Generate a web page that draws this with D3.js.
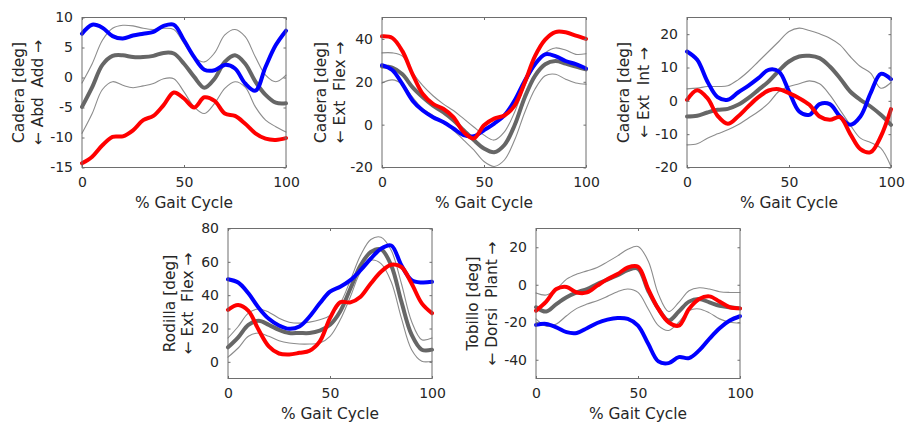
<!DOCTYPE html>
<html>
<head>
<meta charset="utf-8">
<script src="https://cdn.jsdelivr.net/npm/d3@7"></script>
<style>
  body { margin: 0; background: #fff; }
  text { font-family: "DejaVu Sans", sans-serif; fill: #262626; white-space: pre; }
</style>
</head>
<body>
<svg id="chart" width="905" height="423"></svg>
<script>
// % gait cycle, shared by every series
const pct = [0, 5, 10, 15, 20, 25, 30, 35, 40, 45, 50, 55, 60, 65, 70, 75, 80, 85, 90, 95, 100];

// Cadera abd/add
const hipAbdMean  = [-4.9, -1.6, 2.1, 3.6, 3.7, 3.4, 3.4, 3.6, 4.1, 4.0, 2.3, 0.1, -1.7, -0.2, 2.6, 3.7, 2.3, -0.7, -2.9, -4.2, -4.3];
const hipAbdUpper = [-0.9, 2.3, 6.2, 8.2, 8.7, 8.6, 8.2, 8.0, 8.2, 8.0, 5.7, 3.4, 2.6, 4.1, 7.1, 8.0, 6.8, 3.4, 0.4, -0.7, 0.4];
const hipAbdLower = [-9.3, -6.0, -2.0, -0.7, -1.3, -1.7, -1.4, -1.0, -0.2, -0.2, -2.4, -4.9, -6.0, -4.3, -1.8, -0.7, -1.6, -4.9, -7.1, -8.2, -9.1];
const hipAbdBlue  = [7.3, 8.8, 8.3, 6.9, 6.5, 7.0, 7.3, 7.6, 8.6, 8.8, 6.2, 3.4, 1.3, 1.2, 2.1, 1.5, -1.0, -2.2, 1.8, 5.4, 7.8];
const hipAbdRed   = [-14.3, -13.2, -11.3, -9.9, -9.8, -8.8, -7.1, -6.4, -4.6, -2.5, -3.5, -5.0, -3.3, -3.9, -6.0, -6.4, -7.7, -9.3, -10.2, -10.4, -10.1];

// Cadera ext/flex
const hipFlexMean  = [27.1, 26.6, 23.5, 17.4, 12.8, 8.9, 5.8, 2.0, -2.6, -7.2, -11.1, -12.9, -9.5, -0.3, 12.8, 22.8, 28.2, 29.7, 28.5, 27.1, 25.8];
const hipFlexUpper = [33.5, 33.5, 32.0, 24.3, 18.2, 13.5, 9.7, 6.6, 2.8, -1.1, -4.9, -7.2, -3.4, 5.8, 18.2, 27.4, 33.5, 35.8, 34.8, 32.8, 33.1];
const hipFlexLower = [19.4, 20.9, 18.9, 12.8, 7.4, 4.3, 1.2, -2.6, -7.2, -11.8, -17.2, -19.5, -16.5, -7.2, 5.8, 16.6, 22.8, 23.5, 21.2, 19.4, 18.9];
const hipFlexBlue  = [27.7, 25.5, 18.9, 11.2, 6.6, 3.5, 1.2, -1.8, -4.9, -5.4, -2.6, 0.5, 4.3, 11.2, 20.5, 28.2, 32.8, 32.0, 29.7, 28.2, 26.2];
const hipFlexRed   = [41.2, 40.5, 34.3, 23.5, 14.3, 9.7, 7.4, 3.5, -3.4, -6.4, -0.3, 2.8, 4.3, 8.9, 19.7, 32.0, 39.7, 43.2, 43.1, 41.5, 40.0];

// Cadera ext/int rotation
const hipRotMean  = [-4.7, -4.5, -3.5, -2.7, -2.4, -1.2, 0.8, 3.3, 5.8, 9.0, 11.8, 13.3, 13.5, 12.8, 10.3, 6.8, 2.8, 0.3, -1.7, -4.2, -7.2];
const hipRotUpper = [3.6, 3.8, 4.3, 4.3, 4.5, 6.3, 8.8, 11.8, 14.8, 17.8, 20.8, 21.8, 21.1, 20.1, 18.8, 16.8, 13.3, 10.3, 8.3, 3.8, 5.5];
const hipRotLower = [-13.2, -12.9, -11.2, -9.9, -8.7, -7.2, -5.2, -3.2, -0.7, 2.8, 4.3, 5.1, 6.0, 5.1, 1.8, -2.7, -7.2, -11.2, -12.5, -14.2, -19.7];
const hipRotBlue  = [14.8, 12.3, 5.8, 1.1, 0.3, 2.5, 4.5, 6.8, 9.3, 8.8, 2.8, -3.2, -4.2, -1.0, -1.0, -4.7, -7.2, -4.7, 2.3, 8.1, 6.5];
const hipRotRed   = [0.3, 3.2, 0.8, -4.5, -6.9, -4.7, -1.7, 1.1, 3.1, 3.5, 2.3, 0.8, -1.2, -4.7, -5.7, -4.9, -9.9, -14.5, -15.4, -10.7, -2.5];

// Rodilla ext/flex
const kneeMean  = [8.7, 14.7, 22.2, 24.6, 22.2, 19.2, 17.3, 17.3, 17.3, 18.7, 22.2, 30.2, 44.0, 57.9, 65.9, 67.5, 57.9, 36.1, 16.3, 7.3, 7.3];
const kneeUpper = [14.3, 21.2, 29.2, 31.7, 29.8, 26.2, 23.8, 23.2, 23.8, 25.2, 27.8, 35.1, 49.0, 63.9, 73.4, 74.8, 66.9, 47.0, 24.2, 13.3, 14.3];
const kneeLower = [2.8, 8.3, 15.3, 17.3, 15.3, 12.7, 11.3, 10.7, 10.7, 11.3, 15.3, 25.2, 39.1, 54.0, 60.9, 58.9, 48.0, 26.2, 7.3, 0.4, 0.4];
const kneeBlue  = [49.6, 47.6, 41.1, 32.5, 25.8, 21.8, 19.8, 21.2, 27.2, 35.1, 42.1, 45.0, 49.0, 55.0, 61.9, 67.9, 69.8, 57.9, 49.0, 47.6, 48.0];
const kneeRed   = [31.2, 34.1, 30.6, 19.2, 9.3, 5.0, 4.4, 5.4, 6.7, 12.3, 26.2, 35.7, 35.7, 39.1, 47.0, 54.0, 58.3, 56.9, 47.0, 35.1, 29.2];

// Tobillo dorsi/plant
const ankleMean  = [-12.0, -14.3, -10.3, -6.7, -4.1, -2.3, 0.4, 2.7, 5.1, 7.8, 8.6, -3.2, -12.9, -19.1, -14.3, -9.0, -7.6, -9.4, -11.2, -12.0, -12.6];
const ankleUpper = [-4.4, -5.5, -2.3, 3.0, 5.7, 7.4, 9.2, 12.2, 15.4, 18.9, 20.4, 12.7, -5.0, -14.3, -9.4, -3.2, -1.6, -2.3, -3.7, -4.1, -4.1];
const ankleLower = [-18.2, -22.1, -20.9, -16.5, -12.6, -10.3, -8.5, -6.2, -3.7, -2.3, -4.1, -12.9, -21.8, -24.4, -20.0, -13.8, -12.9, -15.0, -18.2, -20.0, -20.4];
const ankleBlue  = [-21.4, -20.9, -22.7, -25.3, -25.7, -23.2, -20.4, -18.6, -17.7, -18.2, -21.8, -31.5, -40.9, -41.8, -38.6, -39.1, -35.0, -28.8, -23.2, -19.1, -16.8];
const ankleRed   = [-13.8, -9.0, -2.3, -1.2, -4.1, -4.1, -0.5, 3.0, 5.7, 9.2, 9.6, -2.3, -12.9, -20.0, -21.8, -12.9, -7.6, -6.2, -9.0, -12.0, -12.6];

const xTicks = [0, 50, 100];

const panels = [
  { left: 82,  top: 17.5, dom: [-15, 10], ticks: [-15, -10, -5, 0, 5, 10], lab: ["Cadera [deg]", "\u2190 Abd  Add \u2192"],
    lines: [hipAbdMean, hipAbdUpper, hipAbdLower, hipAbdBlue, hipAbdRed], off: [-63, -44] },
  { left: 382, top: 17.5, dom: [-20, 50], ticks: [-20, 0, 20, 40], lab: ["Cadera [deg]", "\u2190 Ext  Flex \u2192"],
    lines: [hipFlexMean, hipFlexUpper, hipFlexLower, hipFlexBlue, hipFlexRed], off: [-61, -42] },
  { left: 687, top: 17.5, dom: [-20, 25], ticks: [-20, -10, 0, 10, 20], lab: ["Cadera [deg]", "\u2190 Ext  Int \u2192"],
    lines: [hipRotMean, hipRotUpper, hipRotLower, hipRotBlue, hipRotRed], off: [-63, -43] },
  { left: 228, top: 228.5, dom: [-10, 80], ticks: [0, 20, 40, 60, 80], lab: ["Rodilla [deg]", "\u2190 Ext  Flex \u2192"],
    lines: [kneeMean, kneeUpper, kneeLower, kneeBlue, kneeRed], off: [-58, -40] },
  { left: 536, top: 228.5, dom: [-50, 30], ticks: [-40, -20, 0, 20], lab: ["Tobillo [deg]", "\u2190 Dorsi  Plant \u2192"],
    lines: [ankleMean, ankleUpper, ankleLower, ankleBlue, ankleRed], off: [-63, -44] }
];

const W = 204, H = 150;
const tickFont = "14px", labelFont = "15.4px";
const svg = d3.select("#chart");

panels.forEach(p => {
  const g = svg.append("g").attr("transform", `translate(${p.left},${p.top})`);
  const x = d3.scaleLinear().domain([0, 100]).range([0, W]);
  const y = d3.scaleLinear().domain(p.dom).range([H, 0]);

  const line = d3.line()
    .x((d, i) => x(pct[i]))
    .y(d => y(d))
    .curve(d3.curveCatmullRom.alpha(0.5));

  // order: thin bounds, thick mean, blue, red
  const styles = [
    { s: p.lines[1], c: "#8c8c8c", w: 1.1 },
    { s: p.lines[2], c: "#8c8c8c", w: 1.1 },
    { s: p.lines[0], c: "#666666", w: 4 },
    { s: p.lines[3], c: "#0000ff", w: 4 },
    { s: p.lines[4], c: "#ff0000", w: 4 }
  ];
  styles.forEach(st => {
    g.append("path")
      .attr("d", line(st.s))
      .attr("fill", "none")
      .attr("stroke", st.c)
      .attr("stroke-width", st.w)
      .attr("stroke-linejoin", "round")
      .attr("stroke-linecap", "round");
  });

  // box + inward ticks on all sides
  const axCol = "#6e6e6e";
  g.append("rect").attr("x", 0).attr("y", 0).attr("width", W).attr("height", H)
    .attr("fill", "none").attr("stroke", axCol).attr("stroke-width", 1);

  const yAxis = d3.axisLeft(y).tickValues(p.ticks).tickSize(-2.5).tickPadding(9).tickFormat(d => String(d));
  const xAxis = d3.axisBottom(x).tickValues(xTicks).tickSize(-2.5).tickPadding(10).tickFormat(d => String(d));

  const ya = g.append("g").call(yAxis);
  const yr = g.append("g").attr("transform", `translate(${W},0)`).call(d3.axisRight(y).tickValues(p.ticks).tickSize(-2.5).tickFormat(""));
  const xa = g.append("g").attr("transform", `translate(0,${H})`).call(xAxis);
  const xt = g.append("g").call(d3.axisTop(x).tickValues(xTicks).tickSize(-2.5).tickFormat(""));
  [ya, yr, xa, xt].forEach(a => {
    a.select(".domain").remove();
    a.selectAll("line").attr("stroke", axCol);
    a.selectAll("text").attr("font-size", tickFont).attr("fill", "#262626")
      .style("font-family", "'DejaVu Sans', sans-serif");
  });

  g.append("text")
    .attr("x", W / 2).attr("y", H + 40)
    .attr("text-anchor", "middle")
    .attr("font-size", labelFont)
    .text("% Gait Cycle");

  p.lab.forEach((t, i) => {
    g.append("text")
      .attr("transform", `translate(${p.off[i]},${H / 2}) rotate(-90)`)
      .attr("text-anchor", "middle")
      .attr("dominant-baseline", "central")
      .attr("font-size", labelFont)
      .text(t);
  });
});
</script>
</body>
</html>
